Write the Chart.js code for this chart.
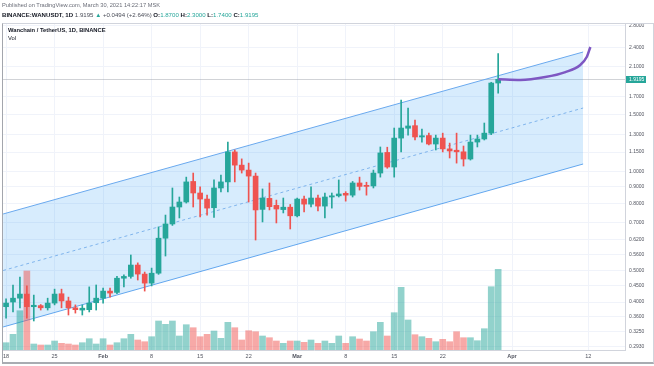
<!DOCTYPE html>
<html>
<head>
<meta charset="utf-8">
<script src="https://cdn.jsdelivr.net/npm/chart.js@4.4.1/dist/chart.umd.min.js"></script>
<style>
  html, body { margin:0; padding:0; background:#fff; }
  body { width:654px; height:366px; position:relative; overflow:hidden; font-family:"Liberation Sans", Arial, sans-serif; }
  #wrap { position:absolute; left:0; top:0; width:654px; height:366px; }
  .hdr { position:absolute; left:2px; white-space:nowrap; line-height:7px; }
  #hdr1 { top:2px; font-size:5.7px; color:#6a6d78; }
  #hdr2 { top:11px; font-size:6.1px; color:#4a4d58; }
  #hdr2 b { color:#131722; }
  .g { color:#26a69a; }
  #frame { position:absolute; left:2px; top:23px; width:652px; height:341px; box-sizing:border-box;
           border:1px solid #d1d4dc; border-left-color:#a3a6ad; border-bottom:2px solid #a9acb2; pointer-events:none; }
  #legend { position:absolute; left:8px; top:26px; font-size:5.8px; line-height:8px; color:#131722; }
  #legend b { font-weight:bold; }
</style>
</head>
<body>
<div id="wrap"><canvas id="chart"></canvas></div>
<div id="hdr1" class="hdr">Published on TradingView.com, March 30, 2021 14:22:17 MSK</div>
<div id="hdr2" class="hdr"><b>BINANCE:WANUSDT, 1D</b> 1.9195 <span class="g">▲</span> +0.0494 (+2.64%) <b>O:</b><span class="g">1.8700</span> <b>H:</b><span class="g">2.3000</span> <b>L:</b><span class="g">1.7400</span> <b>C:</b><span class="g">1.9195</span></div>
<div id="frame"></div>
<div id="legend"><b>Wanchain / TetherUS, 1D, BINANCE</b><br>Vol</div>
<script>
"use strict";
// daily candles, Jan 18 .. Mar 30 2021 (day 0 = Jan 18)
const opens  = [0.387,0.400,0.411,0.423,0.387,0.390,0.384,0.397,0.424,0.403,0.384,0.378,0.379,0.398,0.411,0.432,0.428,0.473,0.479,0.519,
                0.487,0.457,0.490,0.627,0.693,0.781,0.809,0.935,0.862,0.826,0.777,0.893,0.932,1.151,1.049,1.013,0.971,0.768,0.830,0.790,
                0.767,0.780,0.734,0.826,0.797,0.832,0.786,0.838,0.845,0.860,0.849,0.925,0.910,0.906,0.992,1.147,1.035,1.269,1.360,1.385,
                1.279,1.292,1.217,1.269,1.176,1.165,1.152,1.095,1.234,1.261,1.314,1.870];
const highs  = [0.409,0.451,0.477,0.448,0.420,0.393,0.411,0.438,0.438,0.414,0.392,0.392,0.445,0.451,0.441,0.441,0.479,0.484,0.557,0.527,
                0.494,0.508,0.679,0.738,0.893,0.838,0.964,0.992,0.900,0.849,0.945,0.978,1.234,1.167,1.096,1.064,0.992,0.887,0.925,0.820,
                0.832,0.795,0.832,0.844,0.900,0.849,0.862,0.862,0.945,0.870,0.935,0.964,0.930,1.013,1.192,1.190,1.362,1.659,1.568,1.441,
                1.353,1.314,1.296,1.314,1.225,1.314,1.200,1.296,1.296,1.411,1.880,2.300];
const lows   = [0.357,0.373,0.384,0.357,0.350,0.378,0.378,0.392,0.384,0.365,0.370,0.365,0.373,0.378,0.397,0.414,0.424,0.445,0.473,0.467,
                0.432,0.448,0.486,0.553,0.686,0.723,0.803,0.781,0.728,0.738,0.726,0.868,0.868,0.932,0.992,0.809,0.619,0.703,0.765,0.698,
                0.749,0.669,0.728,0.754,0.781,0.760,0.723,0.775,0.838,0.814,0.838,0.880,0.849,0.893,0.964,1.026,0.964,1.151,1.296,1.252,
                1.234,1.209,1.167,1.151,1.103,1.064,1.042,1.087,1.192,1.252,1.300,1.740];
const closes = [0.397,0.411,0.423,0.387,0.391,0.384,0.397,0.423,0.403,0.384,0.379,0.383,0.397,0.411,0.432,0.426,0.473,0.479,0.519,0.487,
                0.457,0.490,0.627,0.693,0.781,0.809,0.932,0.862,0.826,0.775,0.893,0.932,1.151,1.049,1.013,0.971,0.765,0.832,0.783,0.770,
                0.780,0.734,0.826,0.797,0.832,0.786,0.838,0.845,0.856,0.849,0.925,0.903,0.903,0.992,1.143,1.035,1.269,1.362,1.382,1.279,
                1.290,1.217,1.269,1.176,1.159,1.152,1.095,1.234,1.261,1.314,1.870,1.9195];
const volumes = [7.3,15.7,39.3,79,6,5,5,9,6.7,6,5,7.3,11.3,6,11.3,5,7.3,11.3,15.7,10,
                 8.3,13.3,29,25.7,29,14,25.3,22.3,13.3,15.7,19,11.7,27.7,22.3,10,19.3,18.3,14,12.3,9,
                 6.7,9,9,7.7,10,6.7,9,6.7,14,6.7,13.3,11,9,18.3,27.7,14,37.3,62.7,30,15.3,
                 13.3,11.7,8.3,10.7,8.3,18.3,12.3,12.3,9.3,21.3,63.3,80.7];

// axis ticks
const tickDays   = [0, 7, 14, 21, 28, 35, 42, 49, 56, 63, 73, 84];
const tickLabels = ["18", "25", "Feb", "8", "15", "22", "Mar", "8", "15", "22", "Apr", "12"];
const priceTicks = [2.8, 2.4, 2.1, 1.7, 1.5, 1.3, 1.15, 1.0, 0.9, 0.8, 0.7, 0.62, 0.56, 0.5, 0.45, 0.4, 0.36, 0.325, 0.293];

// parallel channel (day, price) at both ends
const channelDays  = [-0.43, 83.26];
const channelUpper = [0.7434, 2.3266];
const channelMid   = [0.4994, 1.5684];
const channelLower = [0.3355, 1.0573];

// hand-drawn purple projection
const sketchDays   = [71, 74.2, 77.8, 80.7, 82.8, 83.8, 84.3];
const sketchPrices = [1.9195, 1.91, 1.95, 2.02, 2.12, 2.25, 2.41];

const UP = "#26a69a", DOWN = "#ef5350";
const isUp = closes.map((c, i) => c >= opens[i]);
const pts = (xs, ys) => xs.map((x, i) => ({ x: x, y: ys[i] }));

Chart.defaults.font.family = '"Liberation Sans", Arial, sans-serif';

const priceLine = {
  id: "priceLine",
  beforeDatasetsDraw(chart) {
    const { ctx, chartArea, scales } = chart;
    const y = Math.round(scales.y.getPixelForValue(closes[closes.length - 1])) + 0.5;
    ctx.save();
    ctx.strokeStyle = "rgba(140,145,155,0.4)";
    ctx.lineWidth = 1;
    ctx.beginPath();
    ctx.moveTo(chartArea.left, y);
    ctx.lineTo(chartArea.right, y);
    ctx.stroke();
    ctx.restore();
  },
  afterDraw(chart) {
    const { ctx, chartArea, scales } = chart;
    const last = closes[closes.length - 1];
    const y = scales.y.getPixelForValue(last);
    ctx.save();
    ctx.fillStyle = UP;
    ctx.fillRect(chartArea.right + 1, Math.round(y - 3), 20, 7);
    ctx.fillStyle = "#fff";
    ctx.font = '5px "Liberation Sans", Arial, sans-serif';
    ctx.textBaseline = "middle";
    ctx.textAlign = "left";
    ctx.fillText(last.toFixed(4), chartArea.right + 4, Math.round(y - 3) + 3.5);
    ctx.restore();
  }
};

new Chart(document.getElementById("chart"), {
  type: "bar",
  data: {
    datasets: [
      { type: "line", data: pts(channelDays, channelUpper), borderColor: "#6aa9ee", borderWidth: 1,
        backgroundColor: "rgba(33,150,243,0.18)", fill: "+1", pointRadius: 0, order: 10 },
      { type: "line", data: pts(channelDays, channelLower), borderColor: "#6aa9ee", borderWidth: 1,
        fill: false, pointRadius: 0, order: 10 },
      { type: "line", data: pts(channelDays, channelMid), borderColor: "#7fb4ec", borderWidth: 1,
        borderDash: [3, 3], fill: false, pointRadius: 0, order: 9 },
      { data: volumes.map((v, i) => ({ x: i, y: v })), yAxisID: "vol", grouped: false, barThickness: 6,
        backgroundColor: isUp.map(u => u ? "rgba(38,166,154,0.5)" : "rgba(239,83,80,0.5)"), order: 6 },
      { data: lows.map((l, i) => ({ x: i, y: [l, highs[i]] })), grouped: false, barThickness: 1,
        backgroundColor: isUp.map(u => u ? UP : DOWN), order: 3 },
      { data: opens.map((o, i) => ({ x: i, y: [Math.min(o, closes[i]), Math.max(o, closes[i])] })), grouped: false,
        barThickness: 5, minBarLength: 1, backgroundColor: isUp.map(u => u ? UP : DOWN), order: 2 },
      { type: "line", data: pts(sketchDays, sketchPrices), borderColor: "#7e57c2", borderWidth: 2.5,
        cubicInterpolationMode: "monotone", fill: false, pointRadius: 0, order: 1 }
    ]
  },
  options: {
    responsive: true,
    maintainAspectRatio: false,
    animation: false,
    events: [],
    layout: { padding: { left: 3, top: 24, right: 0, bottom: 4 } },
    plugins: { legend: { display: false }, tooltip: { enabled: false } },
    scales: {
      x: {
        type: "linear", min: -0.43, max: 89.3, offset: false, bounds: "data",
        afterBuildTicks: s => { s.ticks = tickDays.map(v => ({ value: v })); },
        afterFit: s => { s.height = 12; },
        ticks: {
          autoSkip: false, maxRotation: 0, padding: 3, color: "#50535e",
          font: c => ({ size: 5.5, weight: /[A-Za-z]/.test(tickLabels[c.index]) ? "bold" : "normal" }),
          callback: (v, i) => tickLabels[i]
        },
        grid: { color: "#f0f3fa", drawTicks: false, offset: false },
        border: { color: "#d1d4dc" }
      },
      y: {
        type: "logarithmic", position: "right", min: 0.2853, max: 2.834, bounds: "data",
        afterBuildTicks: s => { s.ticks = priceTicks.map(v => ({ value: v })); },
        afterFit: s => { s.width = 29; },
        ticks: { padding: 4, color: "#50535e", font: { size: 5 }, callback: v => Number(v).toFixed(4) },
        grid: { color: "#f0f3fa", drawTicks: false },
        border: { color: "#d1d4dc" }
      },
      vol: { type: "linear", display: false, min: 0, max: 326 }
    }
  },
  plugins: [priceLine]
});
</script>
</body>
</html>
